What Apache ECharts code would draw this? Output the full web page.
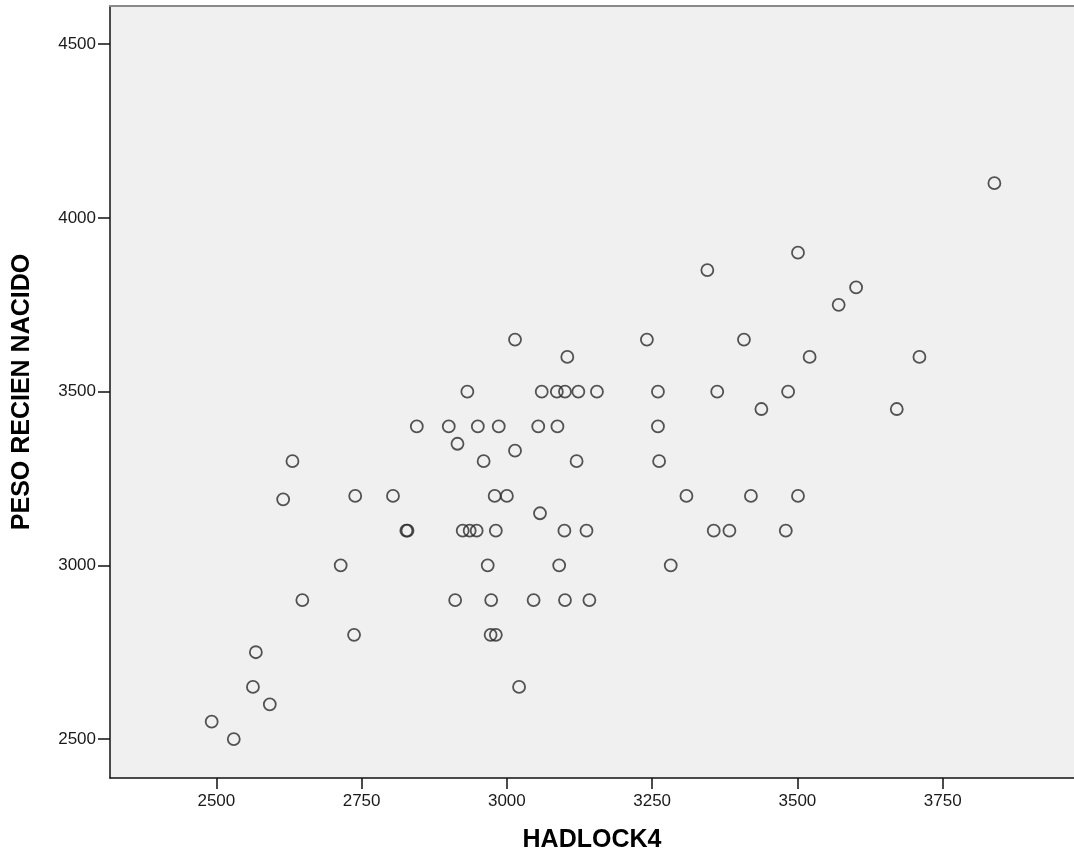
<!DOCTYPE html>
<html>
<head>
<meta charset="utf-8">
<title>HADLOCK4 vs PESO RECIEN NACIDO</title>
<script src="https://cdn.jsdelivr.net/npm/echarts@6/dist/echarts.min.js"></script>
<style>
  html, body { margin: 0; padding: 0; background: #ffffff; }
  #chart { width: 1074px; height: 860px; }
</style>
</head>
<body>
<div id="chart"></div>
<script>
// Estimated fetal weight (Hadlock 4 formula) and actual birth weight, in grams
const hadlock4 = [
  3839, 3501, 3345, 3601, 3571,
  3014, 3241, 3408,
  3104, 3521, 3710,
  2932, 3060, 3086, 3100, 3123, 3155, 3260, 3362, 3484,
  3438, 3671,
  2845, 2900, 2950, 2986, 3054, 3087, 3260,
  2915, 3014,
  2631, 2960, 3120, 3262,
  2739, 2804, 2979, 3000, 3309, 3420, 3501,
  2615, 3057,
  2827, 2829, 2924, 2936, 2948, 2981, 3099, 3137, 3356, 3383, 3480,
  2714, 2967, 3090, 3282,
  2648, 2911, 2973, 3046, 3100, 3142,
  2737, 2972, 2981,
  2568, 2563, 3021, 2592, 2492, 2530
];
const pesoRecienNacido = [
  4100, 3900, 3850, 3800, 3750,
  3650, 3650, 3650,
  3600, 3600, 3600,
  3500, 3500, 3500, 3500, 3500, 3500, 3500, 3500, 3500,
  3450, 3450,
  3400, 3400, 3400, 3400, 3400, 3400, 3400,
  3350, 3330,
  3300, 3300, 3300, 3300,
  3200, 3200, 3200, 3200, 3200, 3200, 3200,
  3190, 3150,
  3100, 3100, 3100, 3100, 3100, 3100, 3100, 3100, 3100, 3100, 3100,
  3000, 3000, 3000, 3000,
  2900, 2900, 2900, 2900, 2900, 2900,
  2800, 2800, 2800,
  2750, 2650, 2650, 2600, 2550, 2500
];
const xTicks = [2500, 2750, 3000, 3250, 3500, 3750];
const yTicks = [2500, 3000, 3500, 4000, 4500];
const xRange = [2317, 3976];
const yRange = [2388, 4610];

const points = hadlock4.map((x, i) => [x, pesoRecienNacido[i]]);

const plain = v => String(v);
const tickFont = { fontFamily: 'Liberation Sans, Arial, sans-serif', fontSize: 17, color: '#1a1a1a' };
const titleFont = { fontFamily: 'Liberation Sans, Arial, sans-serif', fontSize: 25, fontWeight: 'bold', color: '#000' };

const chart = echarts.init(document.getElementById('chart'), null, { renderer: 'canvas' });
chart.setOption({
  animation: false,
  backgroundColor: '#ffffff',
  grid: {
    left: 110, right: 0, top: 6, bottom: 82,
    show: true, backgroundColor: '#f0f0f0', borderWidth: 0
  },
  xAxis: [{
    type: 'value',
    min: xRange[0], max: xRange[1],
    name: 'HADLOCK4',
    nameLocation: 'middle',
    nameGap: 50,
    nameTextStyle: titleFont,
    axisLine: { show: true, onZero: false, lineStyle: { color: '#111', width: 1.5 } },
    axisTick: { show: true, customValues: xTicks, length: 11, lineStyle: { color: '#111', width: 1.5 } },
    axisLabel: { customValues: xTicks, margin: 15, formatter: plain, ...tickFont },
    splitLine: { show: false }
  }, {
    // thin grey frame along the top edge of the plot
    type: 'value', position: 'top',
    min: xRange[0], max: xRange[1],
    axisLine: { show: true, lineStyle: { color: '#8a8a8a', width: 2 } },
    axisTick: { show: false }, axisLabel: { show: false }, splitLine: { show: false }
  }],
  yAxis: {
    type: 'value',
    min: yRange[0], max: yRange[1],
    name: 'PESO RECIEN NACIDO',
    nameLocation: 'middle',
    nameGap: 75,
    nameTextStyle: titleFont,
    axisLine: { show: true, onZero: false, lineStyle: { color: '#111', width: 1.5 } },
    axisTick: { show: true, customValues: yTicks, length: 12, lineStyle: { color: '#111', width: 1.5 } },
    axisLabel: { customValues: yTicks, margin: 14, formatter: plain, ...tickFont },
    splitLine: { show: false }
  },
  series: [{
    type: 'scatter',
    xAxisIndex: 0,
    data: points,
    symbol: 'circle',
    symbolSize: 12,
    itemStyle: { color: 'rgba(0,0,0,0)', borderColor: '#2a2a2a', borderWidth: 1.8 },
    emphasis: { disabled: true }
  }]
});
</script>
</body>
</html>
